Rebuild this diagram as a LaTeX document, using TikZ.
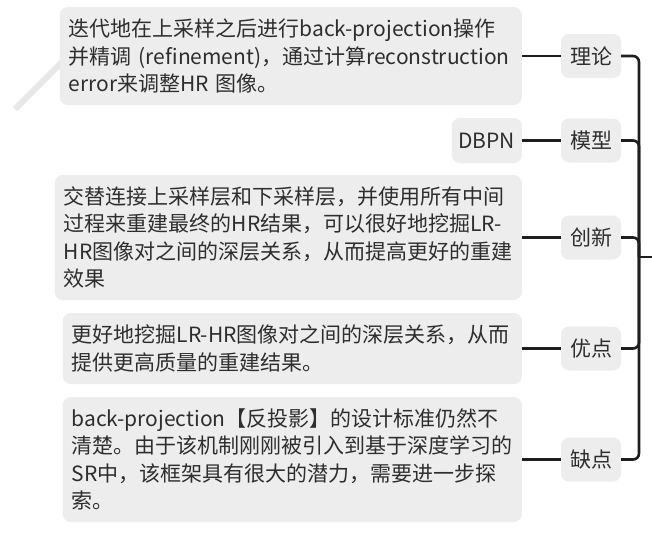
\documentclass[tikz,border=0pt]{standalone}
\usepackage{fontspec}
\setmainfont{Noto Sans CJK SC}
\definecolor{boxgray}{HTML}{EDEDED}
\definecolor{txt}{HTML}{2E2E2E}
\definecolor{linec}{HTML}{1E1E1E}
\definecolor{diag}{HTML}{E8E8E8}
\tikzset{
  box/.style={fill=boxgray, rounded corners=8pt, text=txt, inner xsep=9pt, inner ysep=0pt,
    align=left, anchor=east, font=\fontsize{21}{27.3}\selectfont},
  topic/.style={fill=boxgray, rounded corners=8pt, text=txt, minimum width=60pt,
    minimum height=44pt, inner sep=0pt, font=\fontsize{21}{27.3}\selectfont},
  conn/.style={draw=linec, line width=2.6pt},
}
\begin{document}
\begin{tikzpicture}[x=1pt,y=-1pt]
\fill[white] (0,0) rectangle (652,542);
\useasboundingbox (0,0) rectangle (652,542);
\draw[diag, line width=6pt] (15,109) -- (66,58);
% detail boxes
\node[box, text width=444pt, minimum height=98pt] (b1) at (522,56)
  {迭代地在上采样之后进行back-projection操作\\并精调 (refinement)，通过计算reconstruction\\error来调整HR 图像。};
\node[box, minimum width=70pt, minimum height=45pt, inner xsep=0pt, align=center] (b2) at (522,140.5) {DBPN};
\node[box, text width=449pt, minimum height=125pt] (b3) at (522,237.5)
  {交替连接上采样层和下采样层，并使用所有中间\\过程来重建最终的HR结果，可以很好地挖掘LR-\\HR图像对之间的深层关系，从而提高更好的重建\\效果};
\node[box, text width=441pt, minimum height=71pt] (b4) at (522,348.5)
  {更好地挖掘LR-HR图像对之间的深层关系，从而\\提供更高质量的重建结果。};
\node[box, text width=441pt, minimum height=125pt] (b5) at (522,459.5)
  {back-projection【反投影】的设计标准仍然不\\清楚。由于该机制刚刚被引入到基于深度学习的\\SR中，该框架具有很大的潜力，需要进一步探\\索。};
% topic nodes
\node[topic] (t1) at (591,56) {理论};
\node[topic] (t2) at (591,140.5) {模型};
\node[topic] (t3) at (591,237.5) {创新};
\node[topic] (t4) at (591,348.5) {优点};
\node[topic] (t5) at (591,459.5) {缺点};
% connectors
\draw[conn] (b1) -- (t1);
\draw[conn] (b2) -- (t2);
\draw[conn] (b3) -- (t3);
\draw[conn] (b4) -- (t4);
\draw[conn] (b5) -- (t5);
\coordinate (hub) at (639,257);
\coordinate (root) at (654,257);
\draw[conn] (hub) -- (root);
\foreach \t in {t1,t2,t3,t4,t5}
  \draw[conn, rounded corners=6pt] (hub) |- (\t.east);
\end{tikzpicture}
\end{document}
